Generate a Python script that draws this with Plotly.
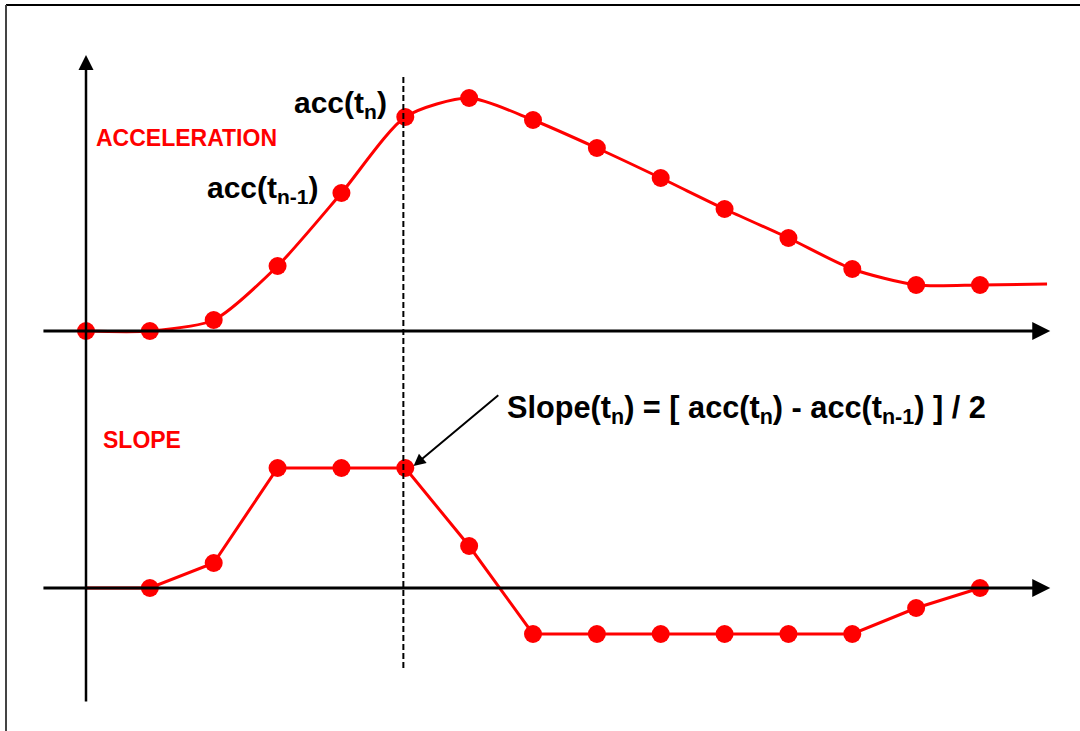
import plotly.graph_objects as go

# ---- data (time steps and values) ----
t = list(range(15))
acc = [0, 0, 1.1, 6.5, 13.8, 21.4, 23.3, 21.1, 18.3, 15.3, 12.2, 9.3, 6.2, 4.6, 4.6]
acc_tail_t = [15.05]
acc_tail_v = [4.7]
slope = [0, 0, 2.5, 12.0, 12.0, 12.0, 4.2, -4.6, -4.6, -4.6, -4.6, -4.6, -4.6, -2.0, 0]
t_n = 5

RED = "#ff0000"
FONT = "Liberation Sans, Arial, sans-serif"

fig = go.Figure()

# acceleration curve (smooth) and its samples
fig.add_trace(go.Scatter(x=t + acc_tail_t, y=acc + acc_tail_v, mode="lines",
                         line=dict(color=RED, width=3, shape="spline", smoothing=0.7),
                         yaxis="y", hoverinfo="skip"))
fig.add_trace(go.Scatter(x=t, y=acc, mode="markers",
                         marker=dict(color=RED, size=18), yaxis="y"))
# slope (piecewise linear); first sample drawn without a marker
fig.add_trace(go.Scatter(x=t, y=slope, mode="lines",
                         line=dict(color=RED, width=3), yaxis="y2", hoverinfo="skip"))
fig.add_trace(go.Scatter(x=t[1:], y=slope[1:], mode="markers",
                         marker=dict(color=RED, size=18), yaxis="y2"))

px_per_t = (980 - 86) / 14.0
x0 = -86 / px_per_t
x1 = (1080 - 86) / px_per_t

shapes = [
    # dashed marker of t_n
    dict(type="line", xref="x", yref="y", x0=t_n - 0.03, x1=t_n - 0.03, y0=-33.7, y1=25.6,
         line=dict(color="black", width=2, dash="6px,3px")),
    # frame
    dict(type="line", xref="paper", yref="paper", x0=6 / 1080, x1=1, y0=1 - 5 / 731, y1=1 - 5 / 731,
         line=dict(color="black", width=2)),
    dict(type="line", xref="paper", yref="paper", x0=6 / 1080, x1=6 / 1080, y0=0, y1=1 - 5 / 731,
         line=dict(color="#444444", width=2)),
]

annotations = []


def arrow(xh, yh, xt, yt, yref, width=3):
    annotations.append(dict(x=xh, y=yh, ax=xt, ay=yt, xref="x", yref=yref, axref="x", ayref=yref,
                            text="", showarrow=True, arrowhead=2, arrowsize=1.2, arrowwidth=width,
                            arrowcolor="black"))


arrow(15.1, 0, -0.69, 0, "y")
arrow(15.1, 0, -0.69, 0, "y2")
arrow(0, 27.6, 0, -37.2, "y", width=2.5)
# pointer to slope(t_n)
arrow(t_n + 0.13, 12.2, 6.48, 19.4, "y2", width=2)


def label(text, x, y, size, color, xanchor):
    annotations.append(dict(text=text, x=x / 1080, y=1 - y / 731, xref="paper", yref="paper",
                            xanchor=xanchor, yanchor="middle", showarrow=False,
                            font=dict(family=FONT, size=size, color=color)))


label("<b>ACCELERATION</b>", 94, 138, 23, RED, "left")
label("<b>SLOPE</b>", 101, 440, 23, RED, "left")
label("<b>acc(t<sub>n</sub>)</b>", 389, 104, 30, "black", "right")
label("<b>acc(t<sub>n-1</sub>)</b>", 321, 189, 30, "black", "right")
label("<b>Slope(t<sub>n</sub>) = [ acc(t<sub>n</sub>) - acc(t<sub>n-1</sub>) ] / 2</b>", 505, 409, 30.7, "black", "left")

fig.update_layout(
    width=1080, height=731,
    margin=dict(l=0, r=0, t=0, b=0),
    paper_bgcolor="white", plot_bgcolor="white",
    showlegend=False,
    xaxis=dict(range=[x0, x1], visible=False, showgrid=False, zeroline=False),
    yaxis=dict(range=[-40, 33.1], visible=False, showgrid=False, zeroline=False),
    yaxis2=dict(range=[-14.3, 58.8], visible=False, showgrid=False, zeroline=False,
                overlaying="y"),
    shapes=shapes,
    annotations=annotations,
)

fig.write_html("out.html", config={"displayModeBar": False},
               post_script="document.body.style.margin='0';document.body.style.overflow='hidden';")
